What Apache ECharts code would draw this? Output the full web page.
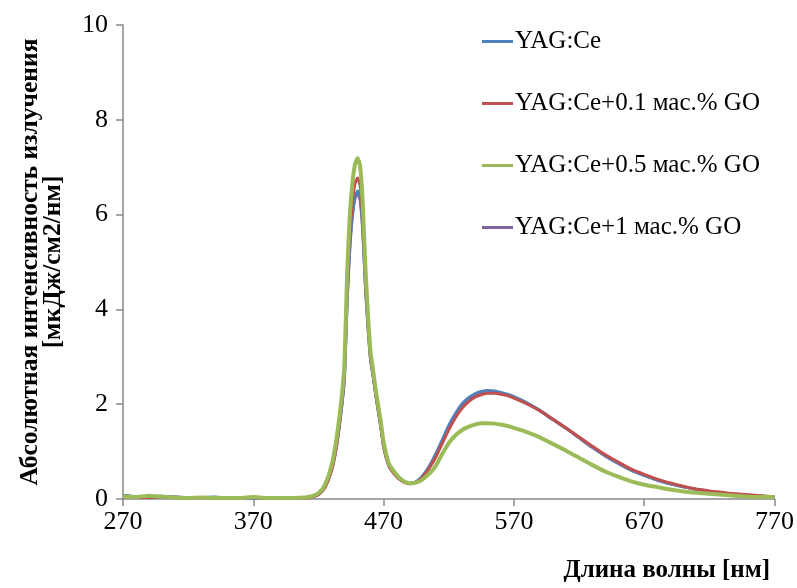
<!DOCTYPE html>
<html>
<head>
<meta charset="utf-8">
<script src="https://cdn.jsdelivr.net/npm/echarts@6/dist/echarts.min.js"></script>
<style>
  html, body { margin: 0; padding: 0; background: #fff; }
  #chart { width: 797px; height: 588px; }
</style>
</head>
<body>
<div id="chart"></div>
<script>
// длины волн, нм
const wavelengths = [
  270, 280, 290, 300, 310, 320, 330, 340, 350, 360, 370, 380, 390, 400, 410, 415,
  420, 425, 430, 434, 438, 440, 442, 444, 446, 448, 450, 452, 454, 456, 458, 460,
  462, 464, 466, 468, 470, 474, 478, 482, 486, 490, 494, 498, 502, 506, 510, 515,
  520, 525, 530, 535, 540, 545, 550, 555, 560, 565, 570, 580, 590, 600, 610, 620,
  630, 640, 650, 660, 670, 680, 690, 700, 710, 720, 730, 740, 750, 760, 770
]

const yagCe = [
  0.08, 0.05, 0.04, 0.06, 0.04, 0.03, 0.03, 0.04, 0.02, 0.03, 0.02, 0.02, 0.02, 0.02, 0.03, 0.05,
  0.10, 0.26, 0.62, 1.15, 2.00, 2.60, 4.20, 5.30, 6.00, 6.38, 6.50, 6.35, 5.70, 4.55, 3.65, 2.95,
  2.60, 2.20, 1.85, 1.50, 1.12, 0.72, 0.55, 0.43, 0.36, 0.33, 0.35, 0.43, 0.56, 0.74, 0.95, 1.25,
  1.55, 1.80, 2.00, 2.13, 2.22, 2.27, 2.29, 2.28, 2.25, 2.21, 2.16, 2.03, 1.87, 1.68, 1.50, 1.30,
  1.10, 0.92, 0.76, 0.61, 0.50, 0.40, 0.32, 0.26, 0.20, 0.16, 0.13, 0.10, 0.08, 0.06, 0.05
]

const yagCeGO01 = [
  0.05, 0.04, 0.03, 0.05, 0.03, 0.02, 0.03, 0.02, 0.02, 0.02, 0.03, 0.02, 0.02, 0.02, 0.02, 0.04,
  0.09, 0.24, 0.60, 1.15, 2.05, 2.70, 4.40, 5.55, 6.25, 6.65, 6.77, 6.60, 5.90, 4.65, 3.75, 3.00,
  2.62, 2.22, 1.86, 1.50, 1.10, 0.70, 0.53, 0.42, 0.35, 0.32, 0.34, 0.41, 0.53, 0.69, 0.88, 1.17,
  1.46, 1.71, 1.91, 2.05, 2.15, 2.20, 2.23, 2.23, 2.21, 2.18, 2.13, 2.01, 1.86, 1.68, 1.50, 1.31,
  1.12, 0.94, 0.78, 0.63, 0.52, 0.42, 0.34, 0.27, 0.21, 0.17, 0.14, 0.11, 0.09, 0.07, 0.05
]

const yagCeGO05 = [
  0.06, 0.04, 0.07, 0.05, 0.03, 0.02, 0.03, 0.02, 0.02, 0.02, 0.04, 0.02, 0.02, 0.02, 0.03, 0.06,
  0.12, 0.30, 0.70, 1.30, 2.20, 2.90, 4.75, 5.95, 6.65, 7.05, 7.19, 7.02, 6.25, 4.90, 3.90, 3.10,
  2.70, 2.30, 1.95, 1.60, 1.20, 0.75, 0.58, 0.45, 0.37, 0.33, 0.34, 0.38, 0.46, 0.56, 0.70, 0.95,
  1.18, 1.34, 1.45, 1.52, 1.57, 1.60, 1.60, 1.59, 1.57, 1.54, 1.50, 1.41, 1.30, 1.16, 1.02, 0.87,
  0.72, 0.58, 0.47, 0.37, 0.30, 0.25, 0.20, 0.16, 0.13, 0.11, 0.09, 0.07, 0.05, 0.04, 0.04
]

const yagCeGO1 = [
  0.07, 0.05, 0.04, 0.05, 0.04, 0.03, 0.03, 0.03, 0.02, 0.03, 0.02, 0.02, 0.02, 0.02, 0.03, 0.05,
  0.10, 0.25, 0.61, 1.13, 1.98, 2.58, 4.15, 5.25, 5.95, 6.33, 6.45, 6.30, 5.65, 4.50, 3.62, 2.93,
  2.58, 2.19, 1.84, 1.49, 1.11, 0.71, 0.54, 0.43, 0.36, 0.33, 0.35, 0.42, 0.55, 0.72, 0.93, 1.22,
  1.52, 1.77, 1.97, 2.10, 2.19, 2.24, 2.26, 2.25, 2.23, 2.19, 2.14, 2.01, 1.86, 1.67, 1.49, 1.29,
  1.09, 0.91, 0.75, 0.61, 0.50, 0.40, 0.32, 0.26, 0.20, 0.16, 0.13, 0.10, 0.08, 0.06, 0.05
]

const xTicks = [270, 370, 470, 570, 670, 770]

const names = [
  'YAG:Ce',
  'YAG:Ce+0.1 мас.% GO',
  'YAG:Ce+0.5 мас.% GO',
  'YAG:Ce+1 мас.% GO'
]
const colors = ['#4F81BD', '#C0504D', '#9BBB59', '#8064A2']

const pairs = arr => wavelengths.map((w, i) => [w, arr[i]])

const font = 'Liberation Serif, serif'

const mkSeries = (idx, data, width) => ({
  name: names[idx],
  type: 'line',
  data: pairs(data),
  showSymbol: false,
  smooth: 0.2,
  lineStyle: { color: colors[idx], width: width },
  itemStyle: { color: colors[idx] },
  emphasis: { disabled: true }
})

const chart = echarts.init(document.getElementById('chart'))

chart.setOption({
  animation: false,
  backgroundColor: '#fff',
  textStyle: { fontFamily: font, color: '#000' },
  grid: { left: 123, right: 20, top: 25, bottom: 89 },
  legend: {
    data: names.map((n, i) => ({ name: n, icon: 'rect', itemStyle: { color: colors[i] } })),
    orient: 'vertical',
    left: 477,
    top: 24,
    itemWidth: 31,
    itemHeight: 3,
    itemGap: 37,
    textStyle: { fontFamily: font, fontSize: 25, color: '#000', padding: [0, 0, 0, -3] }
  },
  xAxis: {
    type: 'value',
    min: 270,
    max: 770,
    splitLine: { show: false },
    axisLine: { lineStyle: { color: '#898989', width: 1.5 } },
    axisTick: { customValues: xTicks, length: 7, lineStyle: { color: '#898989', width: 1.5 } },
    axisLabel: {
      customValues: xTicks,
      fontFamily: font,
      fontSize: 26,
      color: '#000',
      margin: 10
    }
  },
  yAxis: {
    type: 'value',
    min: 0,
    max: 10,
    interval: 2,
    name: 'Абсолютная интенсивность излучения\n[мкДж/см2/нм]',
    nameLocation: 'middle',
    nameRotate: 90,
    nameGap: 58,
    nameTextStyle: {
      fontFamily: font,
      fontSize: 25.5,
      fontWeight: 'bold',
      color: '#000',
      lineHeight: 23
    },
    splitLine: { show: false },
    axisLine: { show: true, lineStyle: { color: '#898989', width: 1.5 } },
    axisTick: { show: true, length: 7, lineStyle: { color: '#898989', width: 1.5 } },
    axisLabel: { fontFamily: font, fontSize: 26, color: '#000', margin: 15 }
  },
  graphic: [{
    type: 'text',
    right: 27,
    top: 558,
    style: {
      text: 'Длина волны [нм]',
      font: 'bold 25px Liberation Serif, serif',
      fill: '#000'
    }
  }],
  series: [
    // фиолетовая скрыта под остальными
    mkSeries(3, yagCeGO1, 3),
    mkSeries(0, yagCe, 3),
    mkSeries(1, yagCeGO01, 3),
    mkSeries(2, yagCeGO05, 4)
  ]
})
</script>
</body>
</html>
